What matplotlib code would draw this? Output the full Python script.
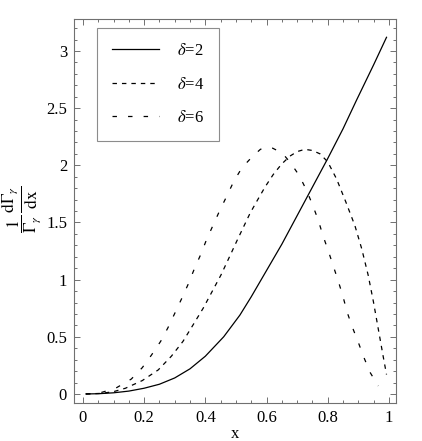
import matplotlib
matplotlib.use("Agg")
import matplotlib.pyplot as plt
from matplotlib.ticker import MultipleLocator, FuncFormatter

plt.rcParams['font.family'] = ['Liberation Serif', 'DejaVu Serif']
plt.rcParams['mathtext.fontset'] = 'stix'
plt.rcParams['lines.scale_dashes'] = False

# values
x_d2 = [0.01, 0.05, 0.1, 0.15, 0.2, 0.25, 0.3, 0.35, 0.4, 0.46, 0.513, 0.55, 0.6,
        0.65, 0.7, 0.75, 0.8, 0.85, 0.894, 0.95, 0.992]
y_d2 = [0.0, 0.002, 0.01, 0.025, 0.05, 0.085, 0.14, 0.22, 0.33, 0.50, 0.69, 0.85, 1.08,
        1.31, 1.56, 1.81, 2.06, 2.32, 2.57, 2.88, 3.12]

x_d4 = [0.01, 0.06, 0.10, 0.139, 0.194, 0.246, 0.289, 0.327, 0.359, 0.393, 0.423, 0.451,
        0.479, 0.505, 0.546, 0.567, 0.595, 0.622, 0.649, 0.676, 0.70, 0.725, 0.75, 0.775,
        0.80, 0.829, 0.859, 0.889, 0.911, 0.932, 0.949, 0.965, 0.981, 0.992]
y_d4 = [0.0, 0.005, 0.02, 0.05, 0.117, 0.21, 0.33, 0.46, 0.60, 0.75, 0.90, 1.04,
        1.20, 1.35, 1.58, 1.68, 1.81, 1.92, 2.01, 2.08, 2.12, 2.14, 2.13, 2.10,
        2.03, 1.88, 1.68, 1.47, 1.27, 1.04, 0.81, 0.57, 0.33, 0.17]

x_d6 = [0.01, 0.05, 0.107, 0.158, 0.194, 0.224, 0.254, 0.278, 0.301, 0.322, 0.344, 0.365,
        0.385, 0.404, 0.426, 0.448, 0.47, 0.493, 0.52, 0.555, 0.58, 0.60, 0.62, 0.642,
        0.66, 0.679, 0.707, 0.731, 0.751, 0.769, 0.785, 0.802, 0.818, 0.834, 0.849,
        0.864, 0.881, 0.90, 0.918, 0.938, 0.965]
y_d6 = [0.0, 0.005, 0.05, 0.13, 0.23, 0.34, 0.46, 0.58, 0.71, 0.83, 0.96, 1.10,
        1.22, 1.35, 1.48, 1.61, 1.73, 1.86, 1.98, 2.08, 2.14, 2.16, 2.15, 2.12,
        2.08, 2.02, 1.91, 1.78, 1.65, 1.52, 1.38, 1.25, 1.12, 0.99, 0.86,
        0.71, 0.58, 0.45, 0.32, 0.19, 0.07]

labels = [r'$\delta$=2', r'$\delta$=4', r'$\delta$=6']

fig = plt.figure(figsize=(4.22, 4.41), dpi=100)
ax = fig.add_axes([0.1754, 0.0862, 0.763, 0.8707])

ax.plot(x_d2, y_d2, color='black', lw=0.9, label=labels[0])
ax.plot(x_d4, y_d4, color='black', lw=0.9, dashes=(3.2, 3.6), label=labels[1])
ax.plot(x_d6, y_d6, color='black', lw=0.9, dashes=(3.2, 8.0), label=labels[2])

ax.set_xlim(-0.029, 1.023)
ax.set_ylim(-0.079, 3.28)

fmt = FuncFormatter(lambda v, p: '%g' % round(v, 2))
ax.xaxis.set_major_locator(MultipleLocator(0.2))
ax.xaxis.set_minor_locator(MultipleLocator(0.05))
ax.yaxis.set_major_locator(MultipleLocator(0.5))
ax.yaxis.set_minor_locator(MultipleLocator(0.1))
ax.xaxis.set_major_formatter(fmt)
ax.yaxis.set_major_formatter(fmt)

frame_col = '#707070'
for s in ax.spines.values():
    s.set_color(frame_col)
    s.set_linewidth(0.8)
ax.tick_params(which='both', direction='in', top=True, right=True, color=frame_col,
               width=0.7, labelsize=12)
ax.tick_params(which='major', length=4, pad=5)
ax.tick_params(which='minor', length=2.2)

ax.set_xlabel('x', fontsize=12, labelpad=0)
ax.set_ylabel(r'$\dfrac{1}{\Gamma_\gamma}\,\dfrac{\mathrm{d}\Gamma_\gamma}{\mathrm{dx}}$',
              fontsize=12.5)
ax.yaxis.label.set_verticalalignment('center')
ax.yaxis.set_label_coords(-0.165, 0.505)

leg = ax.legend(loc='upper left', bbox_to_anchor=(0.072, 0.976), borderaxespad=0,
                fontsize=12, handlelength=2.8, handletextpad=1.1, labelspacing=1.05,
                borderpad=0.9, fancybox=False, frameon=True)
leg.get_frame().set_edgecolor(frame_col)
leg.get_frame().set_linewidth(0.8)

fig.savefig('out.png', dpi=100)
